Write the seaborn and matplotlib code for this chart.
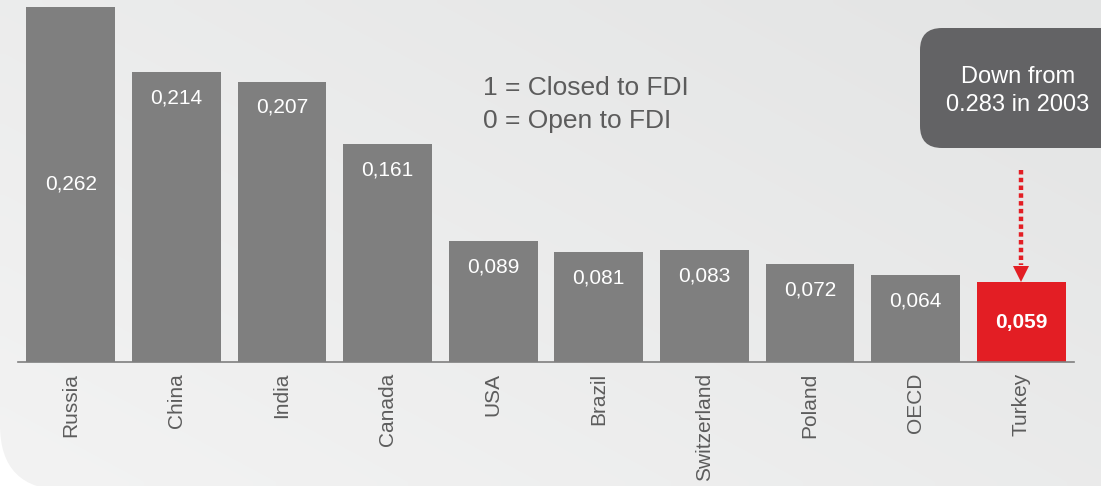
import numpy as np
import matplotlib
matplotlib.use("Agg")
import matplotlib.pyplot as plt
from matplotlib.patches import FancyBboxPatch
from matplotlib.colors import LinearSegmentedColormap
import seaborn as sns

# ---- data ----
countries = ["Russia", "China", "India", "Canada", "USA", "Brazil",
             "Switzerland", "Poland", "OECD", "Turkey"]
values = [0.262, 0.214, 0.207, 0.161, 0.089, 0.081, 0.083, 0.072, 0.064, 0.059]
highlight = "Turkey"
legend_lines = ["1 = Closed to FDI", "0 = Open to FDI"]
callout_text = "Down from\n0.283 in 2003"
callout_from = 0.1417  # start of the dotted arrow (data units)

GRAY = "#7f7f7f"
RED = "#e31e24"
BOX = "#636365"
TXT = "#5c5c5c"

sns.set_style("white")
plt.rcParams["font.family"] = ["Liberation Sans", "DejaVu Sans"]

W, H = 1101, 486
fig = plt.figure(figsize=(W / 100, H / 100), dpi=100)
fig.patch.set_facecolor("white")

# ---- background (rounded light-gray panel with subtle gradient) ----
bg = fig.add_axes([0, 0, 1, 1], zorder=0)
bg.set_xlim(0, W)
bg.set_ylim(0, H)
bg.axis("off")
panel = FancyBboxPatch((0, -4), 1300, 700, boxstyle="round,pad=0,rounding_size=65",
                       facecolor="none", edgecolor="none")
bg.add_patch(panel)
yy, xx = np.mgrid[0:1:60j, 0:1:120j]
grad = 0.55 * xx + 0.45 * (1 - yy)
cmap = LinearSegmentedColormap.from_list("bg", ["#f3f3f3", "#e3e4e4"])
im = bg.imshow(grad, cmap=cmap, extent=(0, W, 0, H), origin="upper",
               aspect="auto", interpolation="bilinear")
im.set_clip_path(panel)

# ---- main bar chart ----
ax = fig.add_axes([18 / W, 124 / H, 1056 / W, 362 / H], zorder=1)
ax.patch.set_alpha(0)
colors = [RED if c == highlight else GRAY for c in countries]
sns.barplot(x=countries, y=values, hue=countries, palette=colors, legend=False,
            width=0.84, saturation=1, linewidth=0, edgecolor="none", ax=ax)
ax.set_xlim(-0.5, len(countries) - 0.5)
ax.set_ylim(0, 362 / 1355)
ax.set_xlabel("")
ax.set_ylabel("")
ax.set_yticks([])
for s in ["top", "left", "right"]:
    ax.spines[s].set_visible(False)
ax.spines["bottom"].set_color(GRAY)
ax.spines["bottom"].set_linewidth(1.2)
ax.set_xticks(range(len(countries)))
ax.set_xticklabels(countries, rotation=90, fontsize=15, color=TXT)
ax.tick_params(axis="x", which="major", length=0, pad=8)
ax.set_xticks(np.arange(-0.5, len(countries)), minor=True)
ax.tick_params(axis="x", which="minor", length=6, width=1.2, color=GRAY,
               direction="out")

# value labels
for i, (c, v) in enumerate(zip(countries, values)):
    lab = f"{v:.3f}".replace(".", ",")
    if i == 0 or c == highlight:
        ax.text(i, v / 2, lab, ha="center", va="center", color="white",
                fontsize=15, fontweight="bold" if c == highlight else "normal")
    else:
        ax.annotate(lab, xy=(i, v), xytext=(0, -18.7), textcoords="offset points",
                    ha="center", va="center", color="white", fontsize=15)

# dotted arrow to highlighted bar
hi = countries.index(highlight)
hv = values[hi]
ms = 12
head = (ms * 100 / 72) / 1355  # marker height in data units
ax.plot([hi, hi], [callout_from, hv + head], color=RED, lw=3.2,
        linestyle=(0, (1, 0.75)), dash_capstyle="butt", solid_capstyle="butt")
ax.plot([hi], [hv + head / 2], marker="v", markersize=ms, color=RED,
        markeredgewidth=0)

# ---- legend text ----
fig.text(483 / W, 1 - 88 / H, legend_lines[0], fontsize=19, color=TXT,
         ha="left", va="center")
fig.text(483 / W, 1 - 121 / H, legend_lines[1], fontsize=19, color=TXT,
         ha="left", va="center")

# ---- callout box ----
box = FancyBboxPatch((920, H - 148), 300, 120,
                     boxstyle="round,pad=0,rounding_size=22",
                     facecolor=BOX, edgecolor="none", zorder=2)
bg.add_patch(box)
bg.text(1018, H - 91, callout_text, ha="center", va="center", color="white",
        fontsize=17, linespacing=1.4, zorder=3)

fig.savefig("out.png", dpi=100)
